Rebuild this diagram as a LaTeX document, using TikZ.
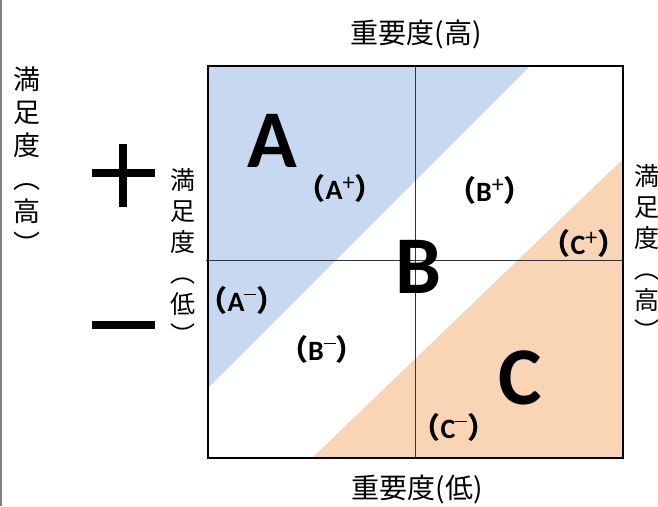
\documentclass[tikz,border=0pt]{standalone}
\usepackage{fontspec}
\setmainfont{Noto Sans CJK JP}
\newfontfamily\cjk{Noto Sans CJK JP}
\newfontfamily\carb{Carlito}
\definecolor{qblue}{HTML}{C6D9F0}
\definecolor{qorange}{HTML}{F9D5B5}
\newcommand\qsup[1]{\raisebox{0.3em}{\fontsize{24}{24}\selectfont\mdseries #1}}
\newcommand\qlab[2]{{\cjk\bfseries\fontsize{29}{29}\selectfont （}{\carb\bfseries #1\qsup{#2}}{\cjk\bfseries\fontsize{29}{29}\selectfont ）}}
\newcommand\qminus{\rule[0.3em]{0.5em}{0.08em}}
\tikzset{
  big/.style={font=\carb\bfseries\fontsize{82}{82}\selectfont, inner sep=0pt},
  sublab/.style={font=\fontsize{28}{28}\selectfont, inner sep=0pt},
  axlab/.style={font=\fontsize{28}{28}\selectfont, inner sep=0pt},
  vlabbig/.style={font=\fontsize{27}{33}\selectfont, align=center, inner sep=0pt, anchor=north},
  vlab/.style={font=\fontsize{25}{31}\selectfont, align=center, inner sep=0pt, anchor=north},
  sign/.style={line width=8pt, line cap=butt},
}
\begin{document}
\begin{tikzpicture}[x=1pt,y=-1pt]
\useasboundingbox (0,0) rectangle (658,506);
\draw[gray, line width=1.5pt] (1,0) -- (1,506);
% fills
\fill[qblue] (208,66) -- (530,66) -- (208,388) -- cycle;
\fill[qorange] (623,159) -- (623,458) -- (312,458) -- cycle;
% axes inside
\coordinate (vt) at (415,66);
\coordinate (vb) at (415,458);
\coordinate (hl) at (206,260);
\coordinate (hr) at (623,260);
\draw[line width=0.9pt, black!80] (vt) -- (vb);
\draw[line width=0.9pt, black!80] (hl) -- (hr);
% frame
\draw[line width=2.6pt] (208,66) rectangle (623,458);
% big letters
\node[big] (A) at (272,141) {A};
\node[big] (B) at (418,267) {B};
\node[big] (C) at (520,378) {C};
% sub labels
\node[sublab] (Ap) at (340,188) {\qlab{A}{+}};
\node[sublab] (Bp) at (490,190) {\qlab{B}{+}};
\node[sublab] (Cp) at (584,243) {\qlab{C}{+}};
\node[sublab] (Am) at (242,300) {\qlab{A}{\qminus}};
\node[sublab] (Bm) at (322,349) {\qlab{B}{\qminus}};
\node[sublab] (Cm) at (454,427) {\qlab{C}{\qminus}};
% axis labels
\node[axlab] (top) at (416,34) {重要度(高)};
\node[axlab] (bot) at (417,489) {重要度(低)};
\node[vlabbig] (lefthi) at (27,67) {満\\足\\度\\︵\\高\\︶};
\node[vlab] (midlo) at (183,168) {満\\足\\度\\︵\\低\\︶};
\node[vlab] (righthi) at (647,164) {満\\足\\度\\︵\\高\\︶};
% plus and minus
\draw[sign] (92,173) -- (155,173);
\draw[sign] (123,144) -- (123,207);
\draw[sign] (92,325) -- (155,325);
\end{tikzpicture}
\end{document}
